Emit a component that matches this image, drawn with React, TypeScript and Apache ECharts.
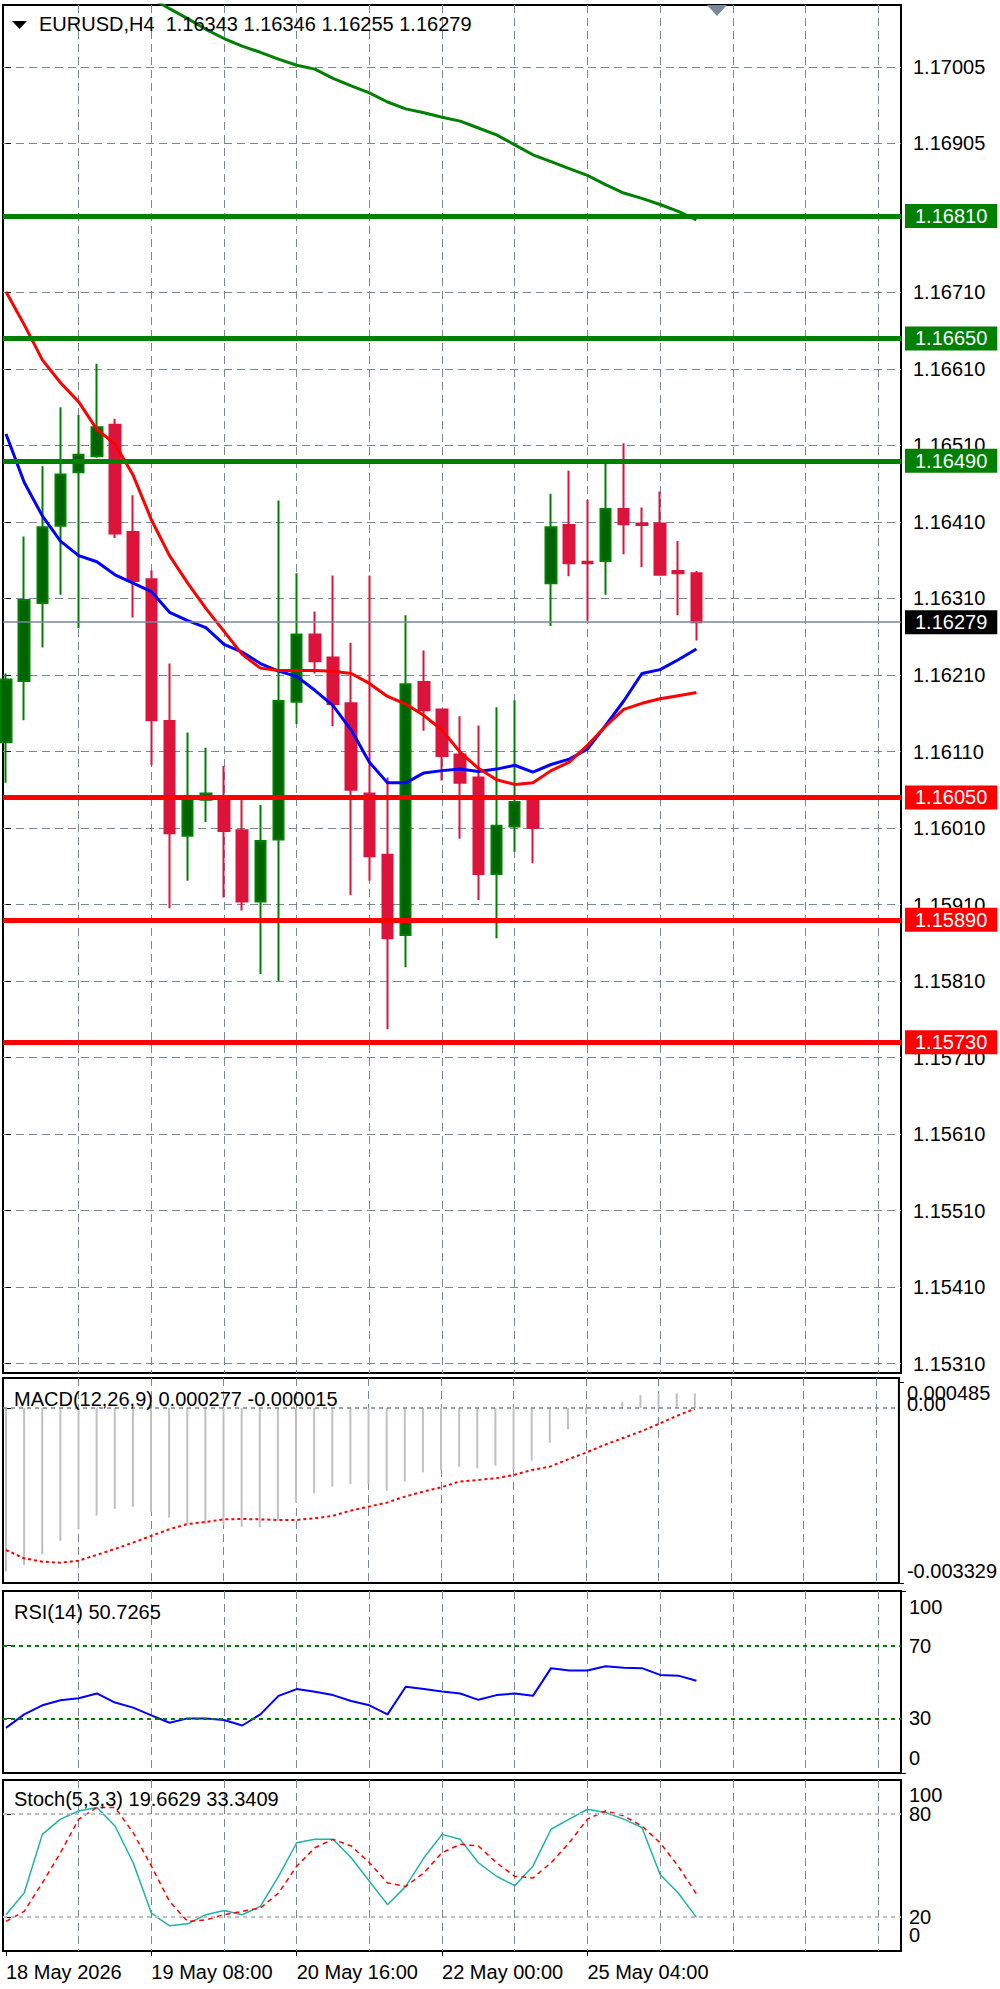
import React, { useEffect, useRef } from "react";
import * as echarts from "echarts";

const FONT = "'Liberation Sans', Arial, Helvetica, sans-serif";

// ---- Candles (H4, idx 0 = 18 May 2026 00:00) ----
const opens = [1.16122, 1.16202, 1.16304, 1.16405, 1.16475, 1.16496, 1.16537, 1.16397, 1.16335, 1.1615, 1.16, 1.16047, 1.1605, 1.16007, 1.15914, 1.15995, 1.16175, 1.16263, 1.16233, 1.16173, 1.16055, 1.15975, 1.1587, 1.16201, 1.16165, 1.16106, 1.16076, 1.1595, 1.16012, 1.1605, 1.1633, 1.16406, 1.16358, 1.16359, 1.16427, 1.16408, 1.16408, 1.16346, 1.16343];
const highs = [1.16212, 1.16391, 1.16483, 1.1656, 1.1655, 1.16617, 1.16545, 1.16445, 1.16347, 1.16225, 1.16135, 1.16115, 1.16091, 1.16052, 1.1604, 1.16438, 1.16343, 1.16293, 1.1634, 1.16252, 1.1634, 1.16076, 1.16288, 1.16242, 1.16166, 1.16156, 1.16144, 1.16168, 1.16177, 1.16052, 1.16447, 1.16477, 1.16439, 1.16488, 1.16513, 1.16429, 1.1645, 1.16385, 1.16346];
const lows = [1.16069, 1.16151, 1.16246, 1.16315, 1.16271, 1.16494, 1.16389, 1.16285, 1.16092, 1.15905, 1.15941, 1.16018, 1.15919, 1.15902, 1.15819, 1.1581, 1.16146, 1.16212, 1.16143, 1.15922, 1.15941, 1.15747, 1.15828, 1.16137, 1.16072, 1.15996, 1.15916, 1.15866, 1.15979, 1.15964, 1.16274, 1.16339, 1.16281, 1.16315, 1.16368, 1.16351, 1.16341, 1.16288, 1.16255];
const closes = [1.16204, 1.16308, 1.16403, 1.16472, 1.16498, 1.16534, 1.16395, 1.16333, 1.16151, 1.16003, 1.16048, 1.16055, 1.16006, 1.15914, 1.15993, 1.16176, 1.16263, 1.16228, 1.16172, 1.1606, 1.15973, 1.15866, 1.16198, 1.16164, 1.16104, 1.16069, 1.1595, 1.16013, 1.16044, 1.1601, 1.16403, 1.16356, 1.16356, 1.16427, 1.16407, 1.16406, 1.16341, 1.16343, 1.16279];

// ---- Moving averages ----
const maFast = [1.16525, 1.16462, 1.16418, 1.16385, 1.16366, 1.16358, 1.16341, 1.1633, 1.16319, 1.16292, 1.16281, 1.16272, 1.1625, 1.1624, 1.16225, 1.16215, 1.16208, 1.1619, 1.1617, 1.16138, 1.16096, 1.16069, 1.16069, 1.16082, 1.16085, 1.16087, 1.16084, 1.16087, 1.16092, 1.16083, 1.16093, 1.161, 1.16113, 1.16144, 1.16176, 1.16212, 1.16217, 1.1623, 1.16244];
const maMid = [1.16711, 1.16668, 1.16622, 1.16592, 1.16567, 1.16531, 1.16512, 1.16471, 1.16413, 1.16366, 1.1633, 1.16297, 1.16267, 1.16237, 1.16219, 1.16216, 1.16216, 1.16216, 1.16215, 1.16212, 1.16199, 1.16182, 1.16172, 1.16157, 1.16138, 1.16109, 1.16088, 1.16073, 1.16067, 1.16069, 1.16085, 1.16096, 1.16118, 1.16143, 1.16165, 1.16173, 1.16179, 1.16183, 1.16187];
const maSlow = [null, null, null, null, null, null, null, null, 1.17095, 1.17081, 1.17068, 1.17054, 1.17042, 1.17032, 1.17024, 1.17015, 1.17007, 1.17002, 1.1699, 1.1698, 1.16971, 1.16959, 1.1695, 1.16945, 1.16939, 1.16934, 1.16925, 1.16916, 1.16903, 1.1689, 1.16881, 1.16872, 1.16863, 1.16851, 1.1684, 1.16833, 1.16825, 1.16816, 1.16805];

// ---- Levels ----
const resistanceLevels = [1.1681, 1.1665, 1.1649];
const supportLevels = [1.1605, 1.1589, 1.1573];
const lastPrice = 1.16279;

// ---- MACD(12,26,9) ----
const macdHist = [-0.003113, -0.002987, -0.002784, -0.002524, -0.002308, -0.002048, -0.001921, -0.001877, -0.001972, -0.002086, -0.002207, -0.002207, -0.002226, -0.002257, -0.00227, -0.002143, -0.001801, -0.001623, -0.001497, -0.001446, -0.001446, -0.001573, -0.001401, -0.001224, -0.001179, -0.001116, -0.001148, -0.001097, -0.00116, -0.001002, -0.00066, -0.000406, -0.00012, 0.00003, 0.000121, 0.000247, 0.000266, 0.000279, 0.000277];
const macdSignal = [-0.002701, -0.00286, -0.002923, -0.002943, -0.002904, -0.002796, -0.002682, -0.002562, -0.002435, -0.002308, -0.002207, -0.002169, -0.002118, -0.002112, -0.002118, -0.002131, -0.002131, -0.002099, -0.002054, -0.001953, -0.001877, -0.001801, -0.001687, -0.001592, -0.001509, -0.001401, -0.00137, -0.001338, -0.001275, -0.001179, -0.001116, -0.000977, -0.000849, -0.000704, -0.000577, -0.00045, -0.000304, -0.000152, -0.000015];

// ---- RSI(14) ----
const rsi = [24.8, 32.2, 37.2, 40.0, 41.1, 43.7, 38.7, 35.9, 31.7, 27.6, 30.0, 30.0, 29.1, 26.1, 32.2, 42.4, 46.1, 44.6, 42.8, 39.6, 37.2, 32.2, 47.4, 46.1, 44.8, 43.7, 40.2, 42.8, 43.7, 42.4, 57.6, 56.3, 56.3, 58.7, 57.8, 57.6, 53.9, 53.5, 50.7265];
const rsiLevels = [70, 30];

// ---- Stoch(5,3,3) ----
const stochK = [21.2, 33.9, 68.2, 77.1, 81.9, 83.9, 73.1, 51.6, 22.2, 14.7, 15.9, 21.2, 23.7, 21.2, 26.1, 43.7, 63.3, 65.3, 65.3, 54.5, 40.8, 27.1, 37.8, 54.5, 68.2, 65.3, 51.6, 43.7, 38.2, 49.6, 71.2, 77.1, 82.9, 81.0, 77.1, 72.2, 44.7, 33.9, 19.6629];
const stochD = [17.3, 23.2, 39.8, 57.5, 77.1, 83.9, 83.9, 69.2, 49.6, 29.0, 17.3, 18.2, 21.2, 23.2, 25.1, 33.9, 49.6, 60.4, 65.3, 61.4, 51.6, 39.8, 37.8, 45.7, 57.5, 62.4, 61.4, 51.6, 43.7, 42.7, 51.6, 63.3, 77.1, 81.9, 79.0, 73.1, 63.3, 49.6, 33.3409];
const stochLevels = [80, 20];

// ---- Tick labels ----
const priceTicks = [1.17005, 1.16905, 1.1681, 1.1671, 1.1661, 1.1651, 1.1641, 1.1631, 1.1621, 1.1611, 1.1601, 1.1591, 1.1581, 1.1571, 1.1561, 1.1551, 1.1541, 1.1531];
// panel scale labels: inner ones centred on their level, edge ones (min/max) drawn inside the panel
const macdEdgeTicks = [0.000485, -0.003329];
const macdEdgeLabels = ["0.000485", "-0.003329"];
const macdInnerTicks = [0];
const macdInnerLabels = ["0.00"];
const rsiEdgeTicks = [100, 0];
const rsiInnerTicks = [70, 30];
const stochEdgeTicks = [100, 0];
const stochInnerTicks = [80, 20];
const timeTickIdx = [0, 8, 16, 24, 32];
const timeTickLabels = ["18 May 2026", "19 May 08:00", "20 May 16:00", "22 May 00:00", "25 May 04:00"];
const vGridIdx = [4, 8, 12, 16, 20, 24, 28, 32, 36, 40, 44, 48];

// ---- Layout constants ----
const X_MIN = -0.165;
const X_MAX = 49.26;
const PRICE_MIN = 1.152976;
const PRICE_MAX = 1.170858;
const GRID_LINE = { color: "#778899", width: 1, type: [8, 5] };

function shiftRich(shifts: number[]) {
  const rich: Record<string, any> = {};
  shifts.forEach((s, i) => {
    rich["k" + i] = {
      fontSize: 20,
      fontFamily: FONT,
      color: "#000",
      padding: s >= 0 ? [2 * s, 0, 0, 0] : [0, 0, -2 * s, 0],
    };
  });
  return rich;
}

function tickFormatter(ticks: number[], labels: string[]) {
  return (v: number) => {
    const k = ticks.findIndex((t) => Math.abs(t - v) < 1e-9);
    return k < 0 ? "" : `{k${k}|${labels[k]}}`;
  };
}

function gridXAxis(gi: number, position: string) {
  return {
    type: "value",
    gridIndex: gi,
    min: X_MIN,
    max: X_MAX,
    position,
    axisLine: { show: false },
    axisLabel: { show: false },
    axisTick: { show: false, customValues: vGridIdx },
    splitLine: { show: true, lineStyle: GRID_LINE },
  };
}

function levelItem(v: number, bg: string, lineColor: string, width: number) {
  return {
    yAxis: v,
    lineStyle: { color: lineColor, width, type: "solid" },
    label: {
      show: true,
      position: "end",
      distance: 4,
      formatter: v.toFixed(5),
      backgroundColor: bg,
      color: "#fff",
      fontSize: 20,
      fontFamily: FONT,
      padding: [2, 10, 2, 10],
    },
  };
}

function panelYAxis(gi: number, min: number, max: number, ticks: number[], labels: string[], shifts: number[]) {
  return {
    type: "value",
    gridIndex: gi,
    position: "right",
    offset: 0,
    min,
    max,
    axisLine: { show: false },
    axisTick: { show: true, length: 5, customValues: ticks, lineStyle: { color: "#000" } },
    axisLabel: {
      show: true,
      customValues: ticks,
      formatter: tickFormatter(ticks, labels),
      rich: shiftRich(shifts),
      margin: 8,
      showMinLabel: true,
      showMaxLabel: true,
      hideOverlap: false,
    },
    splitLine: { show: false },
  };
}

function buildOption() {
  const fmt5 = (v: number) => v.toFixed(5);
  const n = closes.length - 1;
  const header = `EURUSD,H4  ${fmt5(opens[n])} ${fmt5(highs[n])} ${fmt5(lows[n])} ${fmt5(closes[n])}`;
  const macdTitle = `MACD(12,26,9) ${macdHist[n].toFixed(6)} ${macdSignal[n].toFixed(6)}`;
  const rsiTitle = `RSI(14) ${rsi[n].toFixed(4)}`;
  const stochTitle = `Stoch(5,3,3) ${stochK[n].toFixed(4)} ${stochD[n].toFixed(4)}`;
  const titleStyle = { fontSize: 20, fontWeight: "normal", color: "#000", fontFamily: FONT };

  const candleData = opens.map((o, i) => [i, o, closes[i], lows[i], highs[i]]);
  const toXY = (arr: (number | null)[]) =>
    arr.map((v, i) => [i, v]).filter((d) => d[1] !== null);

  const gridBase = { show: true, borderColor: "#000", borderWidth: 2, backgroundColor: "rgba(0,0,0,0)" };
  const MACD_MIN = -0.003329;
  const MACD_MAX = 0.00057;

  return {
    animation: false,
    backgroundColor: "#ffffff",
    textStyle: { fontFamily: FONT },
    title: [
      { text: header, left: 39, top: 14, padding: 0, textStyle: titleStyle },
      { text: macdTitle, left: 14, top: 1389, padding: 0, textStyle: titleStyle },
      { text: rsiTitle, left: 14, top: 1602, padding: 0, textStyle: titleStyle },
      { text: stochTitle, left: 14, top: 1789, padding: 0, textStyle: titleStyle },
    ],
    graphic: [
      { type: "polygon", shape: { points: [[12, 21], [27, 21], [19.5, 29]] }, style: { fill: "#000" } },
      { type: "polygon", shape: { points: [[707, 5], [727, 5], [717, 16]] }, style: { fill: "#778899" } },
    ],
    grid: [
      { ...gridBase, left: 3, top: 5, width: 898, height: 1368 },
      { ...gridBase, left: 3, top: 1378, width: 898, height: 205 },
      { ...gridBase, left: 3, top: 1591, width: 898, height: 182 },
      { ...gridBase, left: 3, top: 1780, width: 898, height: 171 },
    ],
    xAxis: [
      gridXAxis(0, "bottom"),
      gridXAxis(1, "bottom"),
      gridXAxis(2, "bottom"),
      gridXAxis(3, "top"),
      {
        type: "value",
        gridIndex: 3,
        min: X_MIN,
        max: X_MAX,
        position: "bottom",
        axisLine: { show: false },
        splitLine: { show: false },
        axisTick: { show: true, length: 5, customValues: timeTickIdx, lineStyle: { color: "#000" } },
        axisLabel: {
          show: true,
          customValues: timeTickIdx,
          formatter: (v: number) => {
            const k = timeTickIdx.indexOf(Math.round(v));
            return k < 0 ? "" : timeTickLabels[k];
          },
          align: "left",
          margin: 11,
          color: "#000",
          fontSize: 20,
          fontFamily: FONT,
          showMinLabel: true,
          showMaxLabel: true,
        },
      },
    ],
    yAxis: [
      {
        type: "value",
        gridIndex: 0,
        position: "right",
        min: PRICE_MIN,
        max: PRICE_MAX,
        axisLine: { show: false },
        axisTick: { show: true, length: 5, customValues: priceTicks, lineStyle: { color: "#000" } },
        axisLabel: {
          show: true,
          customValues: priceTicks,
          formatter: (v: number) => v.toFixed(5),
          margin: 12,
          color: "#000",
          fontSize: 20,
          fontFamily: FONT,
          showMinLabel: true,
          showMaxLabel: true,
        },
        splitLine: { show: true, lineStyle: GRID_LINE },
      },
      panelYAxis(1, MACD_MIN, MACD_MAX, macdInnerTicks, macdInnerLabels, [-4]),
      panelYAxis(2, 0, 100, rsiInnerTicks, rsiInnerTicks.map(String), [0, 0]),
      panelYAxis(3, 0, 100, stochInnerTicks, stochInnerTicks.map(String), [0, 0]),
      panelYAxis(1, MACD_MIN, MACD_MAX, macdEdgeTicks, macdEdgeLabels, [10.5, -12]),
      panelYAxis(2, 0, 100, rsiEdgeTicks, rsiEdgeTicks.map(String), [16, -15]),
      panelYAxis(3, 0, 100, stochEdgeTicks, stochEdgeTicks.map(String), [15, -16]),
    ],
    series: [
      {
        type: "candlestick",
        name: "EURUSD",
        xAxisIndex: 0,
        yAxisIndex: 0,
        data: candleData,
        encode: { x: 0, y: [1, 2, 3, 4] },
        barWidth: 11,
        itemStyle: {
          color: "#006400",
          color0: "#DC143C",
          borderColor: "#008000",
          borderColor0: "#DC143C",
          borderWidth: 2,
        },
        z: 2,
      },
      {
        type: "line",
        name: "MA fast",
        xAxisIndex: 0,
        yAxisIndex: 0,
        data: toXY(maFast),
        symbol: "none",
        lineStyle: { color: "#0000FF", width: 3 },
        z: 3,
      },
      {
        type: "line",
        name: "MA mid",
        xAxisIndex: 0,
        yAxisIndex: 0,
        data: toXY(maMid),
        symbol: "none",
        lineStyle: { color: "#FF0000", width: 3 },
        z: 3,
      },
      {
        type: "line",
        name: "MA slow",
        xAxisIndex: 0,
        yAxisIndex: 0,
        data: toXY(maSlow),
        symbol: "none",
        lineStyle: { color: "#008000", width: 3 },
        z: 4,
        markLine: {
          symbol: ["none", "none"],
          silent: true,
          precision: 6,
          data: [
            ...resistanceLevels.map((v) => levelItem(v, "#008000", "#008000", 5)),
            ...supportLevels.map((v) => levelItem(v, "#FF0000", "#FF0000", 5)),
            levelItem(lastPrice, "#000000", "#778899", 1.5),
          ],
        },
      },
      {
        type: "bar",
        name: "MACD",
        xAxisIndex: 1,
        yAxisIndex: 1,
        data: macdHist.map((v, i) => [i, v]),
        barWidth: 2,
        itemStyle: { color: "#C0C0C0" },
        markLine: {
          symbol: ["none", "none"],
          silent: true,
          precision: 6,
          label: { show: false },
          lineStyle: { color: "#778899", width: 1.5, type: [4, 4] },
          data: [{ yAxis: 0 }],
        },
      },
      {
        type: "line",
        name: "Signal",
        xAxisIndex: 1,
        yAxisIndex: 1,
        data: macdSignal.map((v, i) => [i, v]),
        symbol: "none",
        lineStyle: { color: "#FF0000", width: 2, type: [3, 3] },
      },
      {
        type: "line",
        name: "RSI",
        xAxisIndex: 2,
        yAxisIndex: 2,
        data: rsi.map((v, i) => [i, v]),
        symbol: "none",
        lineStyle: { color: "#0000FF", width: 2 },
        markLine: {
          symbol: ["none", "none"],
          silent: true,
          precision: 6,
          label: { show: false },
          lineStyle: { color: "#008000", width: 2, type: [4, 4] },
          data: rsiLevels.map((v) => ({ yAxis: v })),
        },
      },
      {
        type: "line",
        name: "%K",
        xAxisIndex: 3,
        yAxisIndex: 3,
        data: stochK.map((v, i) => [i, v]),
        symbol: "none",
        lineStyle: { color: "#20B2AA", width: 1.5 },
        markLine: {
          symbol: ["none", "none"],
          silent: true,
          precision: 6,
          label: { show: false },
          lineStyle: { color: "#C0C0C0", width: 2, type: [4, 4] },
          data: stochLevels.map((v) => ({ yAxis: v })),
        },
      },
      {
        type: "line",
        name: "%D",
        xAxisIndex: 3,
        yAxisIndex: 3,
        data: stochD.map((v, i) => [i, v]),
        symbol: "none",
        lineStyle: { color: "#FF0000", width: 1.5, type: [5, 4] },
      },
    ],
  };
}

export default function App() {
  const ref = useRef<HTMLDivElement>(null);
  useEffect(() => {
    if (!ref.current) return;
    const chart = echarts.init(ref.current, null, { renderer: "svg" });
    chart.setOption(buildOption() as any);
    return () => chart.dispose();
  }, []);
  return (
    <div
      ref={ref}
      style={{ position: "absolute", left: 0, top: 0, width: 1000, height: 1989, background: "#fff" }}
    />
  );
}
